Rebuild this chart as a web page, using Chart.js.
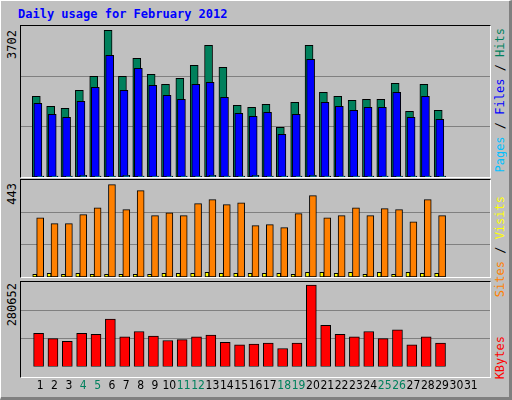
<!DOCTYPE html>
<html>
<head>
<meta charset="utf-8">
<script src="https://cdn.jsdelivr.net/npm/chart.js@4/dist/chart.umd.min.js"></script>
<style>
  body { margin: 0; background: #fff; }
  #frame { position: absolute; left: 0; top: 0; width: 508px; height: 396px; background: #c0c0c0;
           border-top: 1px solid #fff; border-left: 1px solid #fff; border-right: 3px solid #808080; border-bottom: 3px solid #808080; }
  .panel { position: absolute; left: 20px; width: 469px; border-top: 1px solid #000; border-left: 1px solid #000;
           border-right: 1px solid #fff; border-bottom: 1px solid #fff; }
  .vtext { position: absolute; writing-mode: vertical-rl; transform: rotate(180deg); font-family: "DejaVu Sans Mono", monospace; font-size: 12px; white-space: nowrap; }
  #title { position: absolute; left: 18px; top: 7px; font: bold 12px "DejaVu Sans Mono", monospace; color: #0000ff; }
</style>
</head>
<body>
<div id="frame"></div>
<div id="title">Daily usage for February 2012</div>
<div class="panel" style="top:25px;height:151px"><canvas id="c1"></canvas></div>
<div class="panel" style="top:179px;height:97px"><canvas id="c2"></canvas></div>
<div class="panel" style="top:281px;height:95px"></div>
<div style="position:absolute;left:21px;top:282px;width:469px;height:115px"><canvas id="c3"></canvas></div>

<div class="vtext" style="left:5px;top:30px">3702</div>
<div class="vtext" style="left:5px;top:183px">443</div>
<div class="vtext" style="left:5px;top:283px">280652</div>
<div class="vtext" style="left:493px;top:28px"><span style="color:#00c0ff">Pages</span> / <span style="color:#0000ff">Files</span> / <span style="color:#00805c">Hits</span></div>
<div class="vtext" style="left:493px;top:196px"><span style="color:#ff8000">Sites</span> / <span style="color:#ffff00">Visits</span></div>
<div class="vtext" style="left:493px;top:336px;color:#ff0000">KBytes</div>

<script>
const days = Array.from({ length: 29 }, (_, i) => i + 1);
const weekendDays = [4, 5, 11, 12, 18, 19, 25, 26];

const hits = [2037, 1784, 1734, 2188, 2542, 3702, 2542, 2996, 2592, 2340, 2491, 2819, 3324, 2769, 1810,
  1759, 1835, 1254, 1885, 3324, 2138, 2037, 1936, 1961, 1961, 2365, 1658, 2340, 1684];
const files = [1860, 1583, 1507, 1911, 2264, 3072, 2188, 2744, 2315, 2062, 1961, 2340, 2390, 2012, 1608,
  1532, 1633, 1078, 1583, 2971, 1885, 1784, 1684, 1759, 1759, 2138, 1507, 2037, 1456];
const pages = [25, 25, 25, 45, 25, 25, 45, 25, 25, 25, 25, 25, 45, 25, 25,
  45, 25, 25, 25, 45, 25, 25, 25, 25, 25, 25, 25, 25, 25];
const visits = [284, 256, 256, 299, 332, 443, 323, 414, 294, 308, 294, 352, 371, 347, 356,
  246, 251, 237, 304, 390, 284, 294, 332, 294, 328, 323, 265, 371, 294];
const sites = [13, 18, 13, 18, 13, 13, 13, 13, 13, 18, 18, 18, 22, 18, 18,
  18, 18, 18, 13, 22, 22, 18, 22, 13, 22, 13, 22, 18, 18];
const kbytes = [114720, 96284, 87066, 114720, 111650, 163890, 102430, 120870, 105500, 90140, 93210, 102430,
  108580, 83990, 74770, 77850, 80920, 62480, 80920, 280652, 142380, 111650, 102430, 120870, 96284, 127010,
  74770, 102430, 80920];

const xMin = 0.191, xMax = 31.81;

// order: higher number is drawn first (further back)
function series(values, offset, color, width, order) {
  return {
    data: values.map((v, i) => ({ x: days[i] + offset, y: v })),
    backgroundColor: color,
    borderColor: '#000',
    borderWidth: 1,
    borderSkipped: false,
    barThickness: width,
    grouped: false,
    order
  };
}

function makeChart(id, datasets, yMax, showX) {
  new Chart(document.getElementById(id), {
    type: 'bar',
    data: { datasets },
    options: {
      responsive: true,
      maintainAspectRatio: false,
      animation: false,
      layout: { padding: 0 },
      plugins: { legend: { display: false }, tooltip: { enabled: false } },
      scales: {
        x: {
          type: 'linear', min: xMin, max: xMax, display: showX,
          grid: { display: false }, border: { display: false },
          afterBuildTicks: (s) => { s.ticks = Array.from({ length: 31 }, (_, i) => ({ value: i + 1 })); },
          ticks: {
            padding: 4, maxRotation: 0, autoSkip: false,
            font: { family: 'DejaVu Sans Condensed', size: 12 },
            color: (c) => weekendDays.includes(c.tick.value) ? '#00805c' : '#000'
          }
        },
        y: {
          min: 0, max: yMax,
          ticks: { display: false, stepSize: yMax / 3 },
          grid: { color: '#808080', drawTicks: false, lineWidth: (c) => (c.tick.value > 0 && c.tick.value < yMax) ? 1 : 0 },
          border: { display: false }
        }
      }
    }
  });
}

makeChart('c1', [
  series(hits, -0.27, '#00805c', 8, 3),
  series(files, -0.16, '#0000ff', 8, 2),
  series(pages, 0.0, '#00c0ff', 7, 1)
], 3810, false);

makeChart('c2', [
  series(sites, -0.38, '#ffff00', 4, 2),
  series(visits, 0.0, '#ff8000', 7, 1)
], 465, false);

makeChart('c3', [
  series(kbytes, -0.11, '#ff0000', 10, 1)
], 291700, true);
</script>
</body>
</html>
